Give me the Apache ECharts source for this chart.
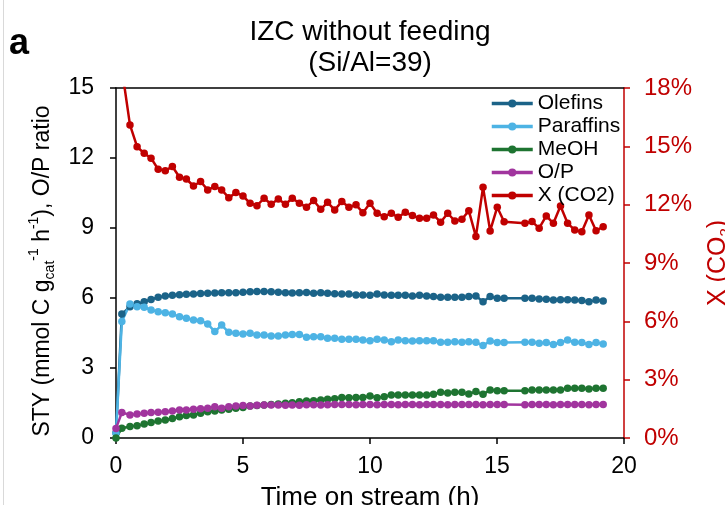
<!DOCTYPE html>
<html><head><meta charset="utf-8">
<script src="https://cdn.jsdelivr.net/npm/echarts@6/dist/echarts.min.js"></script>
<style>html,body{margin:0;padding:0;background:#fff}#c{width:725px;height:505px}</style>
</head><body><div id="c"></div>
<script>
var times = [0, 0.23, 0.55, 0.83, 1.11, 1.38, 1.66, 1.94, 2.22, 2.50, 2.77, 3.05, 3.33, 3.61, 3.89, 4.16, 4.44, 4.72, 5.00, 5.28, 5.55, 5.83, 6.11, 6.39, 6.67, 6.94, 7.22, 7.50, 7.78, 8.06, 8.33, 8.61, 8.89, 9.17, 9.45, 9.72, 10.00, 10.28, 10.56, 10.84, 11.11, 11.39, 11.67, 11.95, 12.23, 12.50, 12.78, 13.06, 13.34, 13.62, 13.89, 14.17, 14.45, 14.73, 15.01, 15.28, 16.10, 16.38, 16.66, 16.94, 17.22, 17.50, 17.78, 18.06, 18.34, 18.62, 18.90, 19.18];
var olefins = [0.22, 5.31, 5.63, 5.75, 5.84, 5.94, 6.03, 6.09, 6.12, 6.14, 6.16, 6.17, 6.19, 6.20, 6.21, 6.22, 6.22, 6.23, 6.25, 6.27, 6.28, 6.28, 6.27, 6.25, 6.23, 6.21, 6.22, 6.24, 6.20, 6.22, 6.20, 6.18, 6.17, 6.17, 6.13, 6.13, 6.12, 6.17, 6.13, 6.12, 6.12, 6.12, 6.09, 6.12, 6.09, 6.06, 6.03, 6.03, 6.03, 6.03, 6.06, 6.09, 5.84, 6.06, 5.99, 5.99, 5.99, 5.99, 5.96, 5.95, 5.91, 5.93, 5.93, 5.91, 5.89, 5.84, 5.91, 5.87];
var paraffins = [0.20, 4.99, 5.74, 5.63, 5.60, 5.49, 5.41, 5.37, 5.31, 5.20, 5.13, 5.06, 5.03, 4.89, 4.56, 4.84, 4.53, 4.49, 4.46, 4.49, 4.41, 4.41, 4.37, 4.37, 4.41, 4.44, 4.44, 4.32, 4.34, 4.34, 4.27, 4.27, 4.23, 4.23, 4.23, 4.20, 4.17, 4.23, 4.20, 4.13, 4.20, 4.17, 4.16, 4.17, 4.17, 4.17, 4.10, 4.10, 4.13, 4.10, 4.13, 4.10, 3.96, 4.16, 4.09, 4.09, 4.10, 4.10, 4.06, 4.09, 4.01, 4.09, 4.20, 4.10, 4.09, 4.01, 4.09, 4.03];
var meoh = [0.00, 0.42, 0.49, 0.53, 0.60, 0.66, 0.73, 0.77, 0.84, 0.91, 0.96, 0.99, 1.06, 1.13, 1.16, 1.20, 1.23, 1.27, 1.31, 1.37, 1.39, 1.41, 1.44, 1.46, 1.49, 1.51, 1.55, 1.59, 1.60, 1.63, 1.66, 1.68, 1.74, 1.73, 1.74, 1.74, 1.80, 1.73, 1.77, 1.84, 1.84, 1.84, 1.84, 1.84, 1.84, 1.87, 1.96, 1.93, 1.96, 1.96, 1.89, 1.99, 1.87, 2.06, 2.03, 2.03, 2.03, 2.06, 2.06, 2.06, 2.06, 2.06, 2.13, 2.13, 2.13, 2.10, 2.13, 2.13];
var opRatio = [0.41, 1.09, 0.99, 1.03, 1.06, 1.09, 1.10, 1.13, 1.16, 1.20, 1.20, 1.23, 1.25, 1.27, 1.34, 1.27, 1.34, 1.37, 1.39, 1.37, 1.40, 1.41, 1.41, 1.41, 1.40, 1.41, 1.40, 1.43, 1.43, 1.41, 1.43, 1.44, 1.44, 1.44, 1.43, 1.44, 1.44, 1.43, 1.44, 1.44, 1.43, 1.44, 1.44, 1.43, 1.44, 1.44, 1.44, 1.43, 1.44, 1.44, 1.44, 1.44, 1.43, 1.44, 1.44, 1.44, 1.43, 1.44, 1.44, 1.44, 1.43, 1.44, 1.44, 1.44, 1.44, 1.43, 1.44, 1.44];
var xco2 = [null, 19.0, 16.10, 14.98, 14.64, 14.39, 13.82, 13.75, 13.96, 13.41, 13.32, 12.96, 13.19, 12.76, 12.93, 12.76, 12.36, 12.62, 12.45, 12.07, 11.95, 12.33, 12.02, 12.29, 12.02, 12.33, 12.07, 11.87, 12.21, 11.76, 12.12, 11.73, 12.16, 11.87, 11.99, 11.59, 12.07, 11.56, 11.38, 11.56, 11.35, 11.61, 11.44, 11.30, 11.30, 11.47, 11.10, 11.56, 11.16, 11.25, 11.69, 10.36, 12.90, 10.65, 11.87, 11.12, 11.04, 11.13, 10.79, 11.42, 11.04, 11.93, 11.04, 10.70, 10.61, 11.47, 10.66, 10.87];
var seriesNames = ['Olefins', 'Paraffins', 'MeOH', 'O/P', 'X (CO2)'];
var xTicks = [0, 5, 10, 15, 20];

var FONT = '"Liberation Sans", Arial, sans-serif';
var colors = ['#1B6388', '#4DB3E4', '#1E7431', '#A1359E', '#C00000'];
function pairs(arr){ return times.map(function(t,i){ return [t, arr[i]]; }); }
var dataSets = [olefins, paraffins, meoh, opRatio, xco2];

var series = dataSets.map(function(d, i){
  return {
    name: seriesNames[i], type: 'line', data: pairs(d),
    yAxisIndex: i === 4 ? 1 : 0, xAxisIndex: 0,
    symbol: 'circle', symbolSize: 7.5, showSymbol: true,
    lineStyle: {width: 2.5, color: colors[i]},
    itemStyle: {color: colors[i]},
    clip: true, animation: false, z: i === 4 ? 3 : 2
  };
});

var chart = echarts.init(document.getElementById('c'), null, {renderer: 'canvas'});
chart.setOption({
  backgroundColor: '#fff',
  animation: false,
  textStyle: {fontFamily: FONT},
  title: {
    text: 'IZC without feeding\n(Si/Al=39)', left: 365, top: 12, textAlign: 'center',
    textStyle: {fontFamily: FONT, fontSize: 28, fontWeight: 'normal', color: '#000', lineHeight: 31}
  },
  graphic: [
    {type: 'text', left: 9, top: 26, style: {text: 'a', fontFamily: FONT, fontSize: 36, fontWeight: 'bold', fill: '#000'}},
    {type: 'line', shape: {x1: 3.5, y1: 0, x2: 3.5, y2: 505}, style: {stroke: '#d9d9d9', lineWidth: 1}}
  ],
  legend: {
    orient: 'vertical', left: 490, top: 93, padding: 0, itemWidth: 41, itemHeight: 10, itemGap: 2,
    data: seriesNames,
    lineStyle: {width: 3.5},
    textStyle: {fontFamily: FONT, fontSize: 21, color: '#000', lineHeight: 21}
  },
  grid: {left: 116, right: 101, top: 88, bottom: 67, outerBoundsMode: 'none', containLabel: false},
  xAxis: [{
    type: 'value', min: 0, max: 20, interval: 5,
    name: 'Time on stream (h)', nameLocation: 'middle', nameGap: 47,
    nameTextStyle: {fontFamily: FONT, fontSize: 26, color: '#000'},
    axisLine: {onZero: false, lineStyle: {color: '#000', width: 1.5}},
    axisTick: {show: true, inside: false, length: 6, lineStyle: {color: '#000', width: 1.5}},
    axisLabel: {fontFamily: FONT, fontSize: 23, color: '#000', margin: 17},
    splitLine: {show: false}
  }, {
    type: 'value', position: 'top', min: 0, max: 20,
    axisLine: {show: true, onZero: false, lineStyle: {color: '#000', width: 1.5}},
    axisTick: {show: false}, axisLabel: {show: false}, splitLine: {show: false}
  }],
  yAxis: [{
    type: 'value', min: 0, max: 15, interval: 3, position: 'left',
    name: '{a|STY (mmol C g}{sub|cat}{sup|-1}{a| h}{sup|-1}{a|), O/P ratio}',
    nameLocation: 'middle', nameGap: 55, nameRotate: 90,
    nameTextStyle: {
      fontFamily: FONT, color: '#000', fontSize: 23, padding: [0, 16, 0, 0],
      rich: {
        a: {fontFamily: FONT, fontSize: 23, color: '#000', lineHeight: 30},
        sub: {fontFamily: FONT, fontSize: 14, color: '#000', verticalAlign: 'bottom', lineHeight: 30},
        sup: {fontFamily: FONT, fontSize: 14, color: '#000', verticalAlign: 'top', lineHeight: 30}
      }
    },
    axisLine: {show: true, onZero: false, lineStyle: {color: '#000', width: 1.5}},
    axisTick: {show: true, inside: false, length: 6, lineStyle: {color: '#000', width: 1.5}},
    axisLabel: {fontFamily: FONT, fontSize: 23, color: '#000', margin: 22},
    splitLine: {show: false}
  }, {
    type: 'value', min: 0, max: 18, interval: 3, position: 'right',
    name: '{a|X (CO}{sub|2}{a|)}',
    nameLocation: 'middle', nameGap: 79, nameRotate: 90,
    nameTextStyle: {
      fontFamily: FONT, color: '#C00000', fontSize: 25,
      rich: {
        a: {fontFamily: FONT, fontSize: 25, color: '#C00000', lineHeight: 30},
        sub: {fontFamily: FONT, fontSize: 15, color: '#C00000', verticalAlign: 'bottom', lineHeight: 30}
      }
    },
    axisLine: {show: true, onZero: false, lineStyle: {color: '#C00000', width: 1.5}},
    axisTick: {show: true, inside: false, length: 6, lineStyle: {color: '#C00000', width: 1.5}},
    axisLabel: {fontFamily: FONT, fontSize: 24, color: '#C00000', margin: 20, formatter: '{value}%'},
    splitLine: {show: false}
  }],
  series: series
});
</script>
</body></html>
